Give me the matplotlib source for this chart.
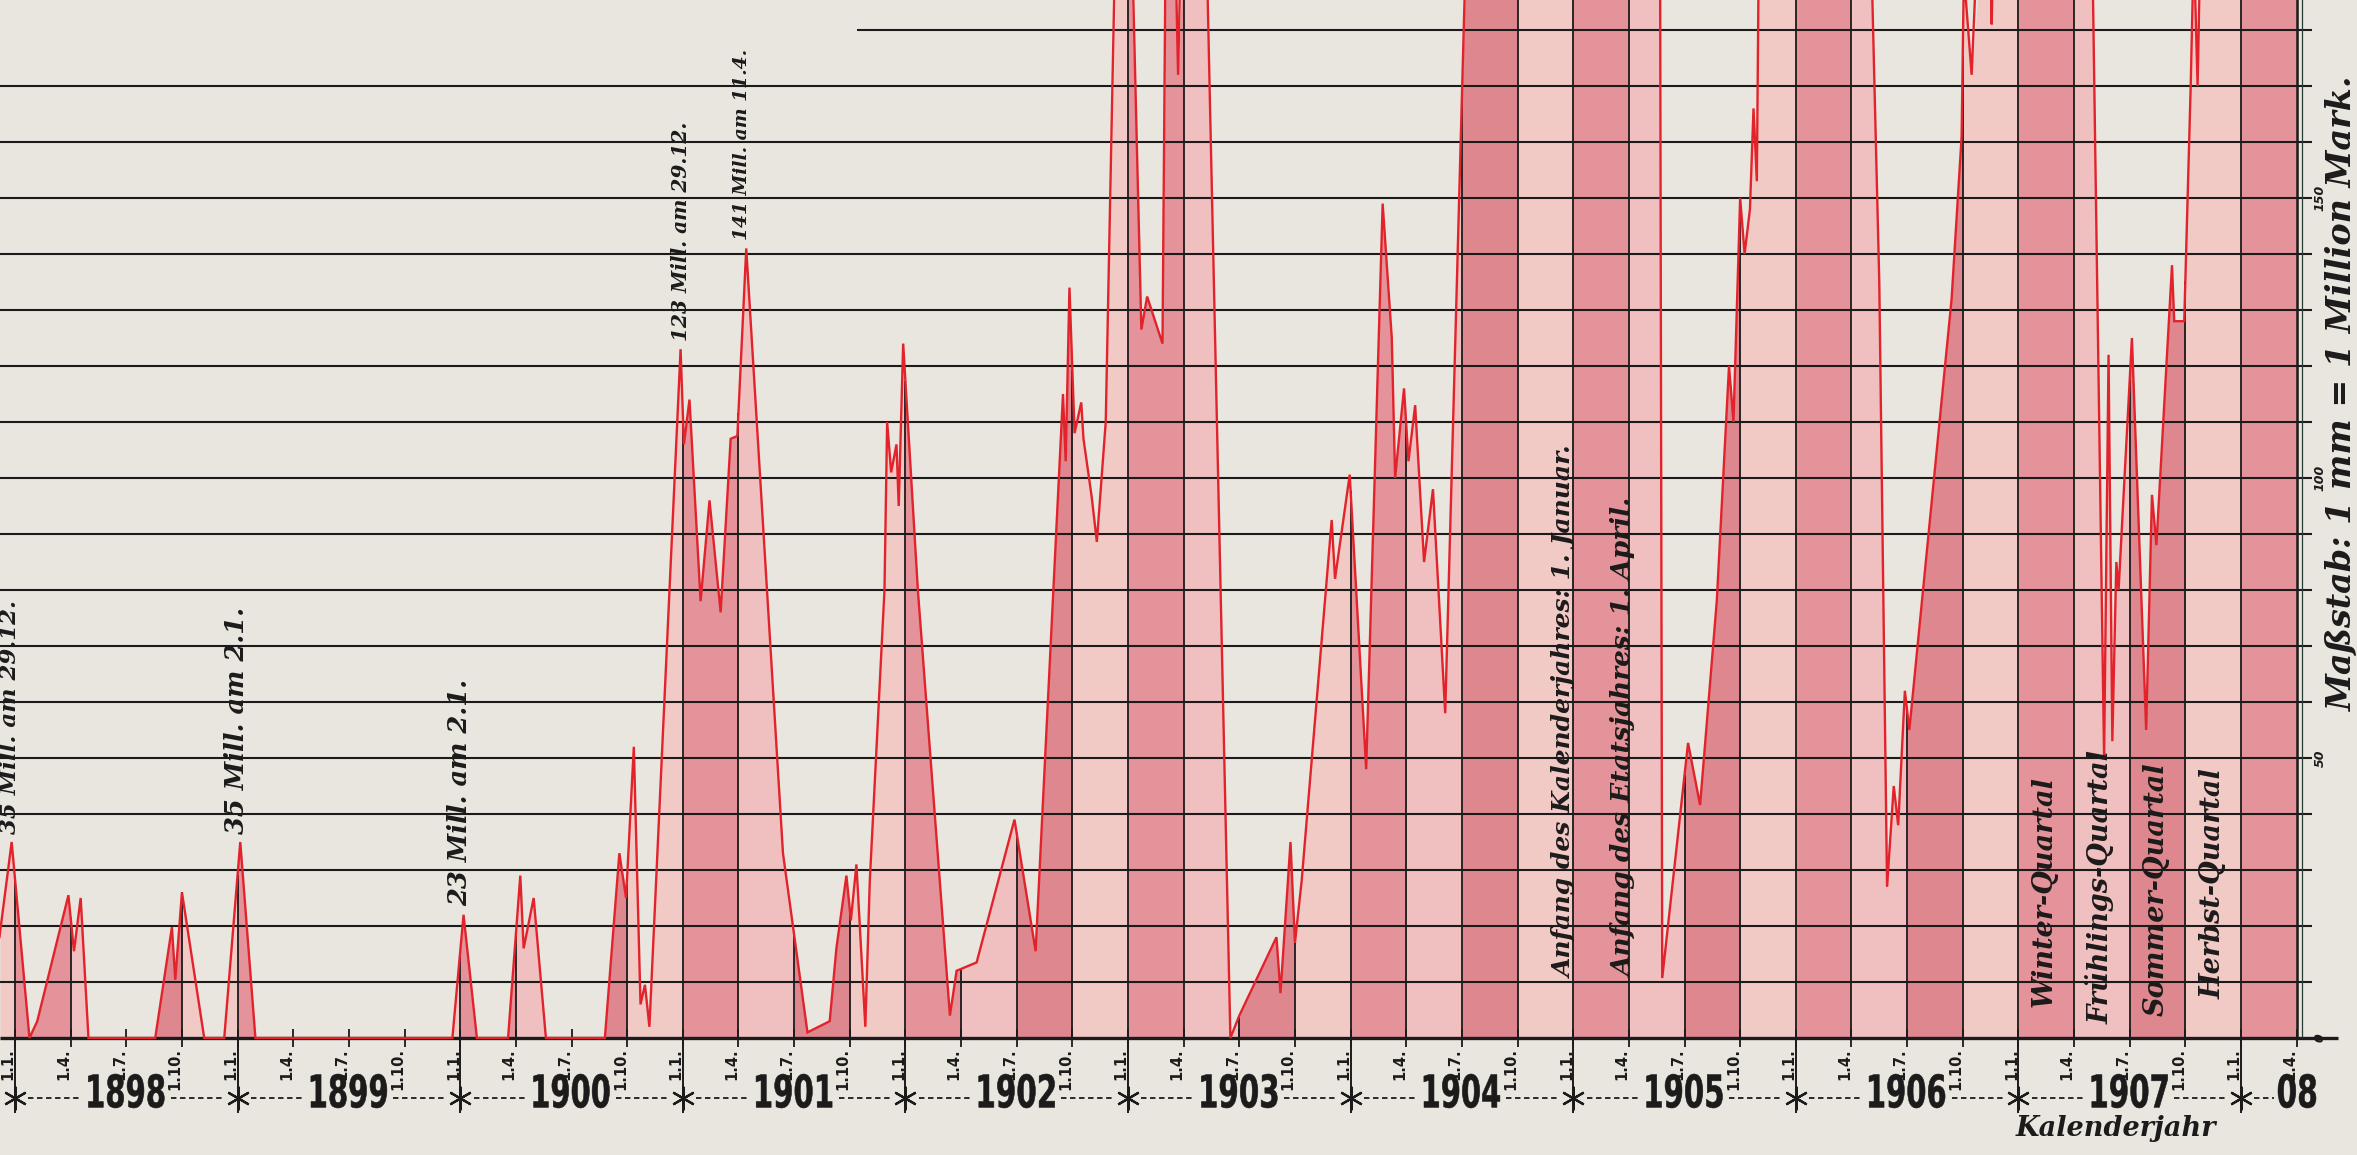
import matplotlib
matplotlib.use('Agg')
import matplotlib.pyplot as plt
import numpy as np
from matplotlib.textpath import TextPath
from matplotlib.patches import PathPatch
from matplotlib.font_manager import FontProperties
from matplotlib.transforms import Affine2D

# ---------------- data (fractional calendar year, Mill. Mark) ----------------
dates = [1897.93, 1897.985, 1898.065, 1898.10, 1898.24, 1898.265, 1898.295, 1898.33,
         1898.63, 1898.705, 1898.72, 1898.75, 1898.85, 1898.94, 1899.012, 1899.08,
         1899.965, 1900.015, 1900.075, 1900.215, 1900.27, 1900.285, 1900.33, 1900.385,
         1900.65, 1900.715, 1900.745, 1900.78, 1900.81, 1900.83, 1900.85, 1900.99,
         1901.005, 1901.03, 1901.08, 1901.12, 1901.17, 1901.215, 1901.245, 1901.285,
         1901.45, 1901.56, 1901.66, 1901.69, 1901.735, 1901.755, 1901.78, 1901.82,
         1901.84, 1901.906, 1901.918, 1901.936, 1901.96, 1901.97, 1901.99, 1902.056,
         1902.20, 1902.23, 1902.32, 1902.49, 1902.585, 1902.665, 1902.708, 1902.72,
         1902.737, 1902.76, 1902.79, 1902.80, 1902.837, 1902.86, 1902.90, 1902.945,
         1903.015, 1903.06, 1903.086, 1903.155, 1903.17, 1903.21, 1903.225, 1903.24,
         1903.35, 1903.46, 1903.50, 1903.667, 1903.685, 1903.73, 1903.75, 1903.78,
         1903.915, 1903.93, 1903.996, 1904.07, 1904.144, 1904.185, 1904.20, 1904.24,
         1904.26, 1904.29, 1904.33, 1904.37, 1904.425, 1904.515, 1905.39, 1905.40,
         1905.516, 1905.57, 1905.645, 1905.70, 1905.72, 1905.75, 1905.77, 1905.794,
         1905.81, 1905.825, 1905.835, 1906.335, 1906.375, 1906.41, 1906.44, 1906.46,
         1906.49, 1906.51, 1906.70, 1906.745, 1906.755, 1906.79, 1906.82, 1906.87,
         1906.88, 1906.89, 1907.33, 1907.385, 1907.405, 1907.422, 1907.44, 1907.45,
         1907.51, 1907.574, 1907.60, 1907.62, 1907.69, 1907.70, 1907.745, 1907.774,
         1907.788, 1907.805, 1907.82, 1908.30]
values = [18, 35, 0, 3, 25.5, 15.5, 25, 0,
          0, 19.8, 10.4, 26, 0, 0, 35, 0,
          0, 22, 0, 0, 29, 16, 25, 0,
          0, 33, 25, 52, 6, 9.5, 2, 123,
          106, 114, 78, 96, 76, 107, 107.5, 141,
          33, 1, 3, 16, 29, 21, 31, 2,
          28, 80, 110, 101, 106, 95, 124, 80,
          4, 12, 13.5, 39, 15.5, 80, 115, 103,
          134, 108, 113.5, 107, 96.6, 88.6, 110, 200,
          200, 126.5, 132.4, 124, 200, 200, 172, 200,
          200, 0, 4, 18, 8, 35, 17, 28,
          92.5, 82, 100.6, 48, 149, 125, 100, 116,
          103, 113, 85, 98, 58, 190, 200, 10.7,
          52.7, 41.6, 78, 120, 110, 150, 140, 148,
          166, 153, 200, 200, 135, 27, 45, 38,
          62, 55, 132, 161, 190, 172, 200, 200,
          181, 200, 200, 50, 122, 53, 85, 80,
          125, 55, 97, 88, 138, 128, 128, 170,
          195, 170, 200, 200]

years = [1898, 1899, 1900, 1901, 1902, 1903, 1904, 1905, 1906, 1907]
year_labels = ['1898', '1899', '1900', '1901', '1902', '1903', '1904', '1905', '1906', '1907']
quarter_labels = ['1.1.', '1.4.', '1.7.', '1.10.']
quarter_names = ['Winter-Quartal', 'Frühlings-Quartal', 'Sommer-Quartal', 'Herbst-Quartal']
scale_ticks = [0, 50, 100, 150]
peak_notes = [(1897.978, 36.5, '35 Mill. am 29.12.', 16.5),
              (1898.997, 36.5, '35 Mill. am 2.1.', 18.5),
              (1899.999, 23.5, '23 Mill. am 2.1.', 18.5),
              (1900.99, 124.5, '123 Mill. am 29.12.', 14.5),
              (1901.266, 142.5, '141 Mill. am 11.4.', 13.5)]

# ---------------- geometry ----------------
W, H = 2357, 1155
X0PX, YRPX, BASEPX, MPX = 15.0, 222.6, 1038.0, 5.6
x_left = 1898 - X0PX / YRPX
x_right = 1898 + (W - X0PX) / YRPX
y_bot = -(H - BASEPX) / MPX
y_top = BASEPX / MPX
END = 1908.25

def px2yr(px):
    return 1898 + (px - X0PX) / YRPX

def px2val(py):
    return (BASEPX - py) / MPX

PAPER = '#e8e6de'
RED = '#e2232c'
INK = '#1c1a1a'
QCOL = ['#e4939a', '#efc0bf', '#df878f', '#f1cac6']

fig = plt.figure(figsize=(W / 100, H / 100), dpi=100)
fig.patch.set_facecolor(PAPER)
ax = fig.add_axes([0, 0, 1, 1])
ax.set_facecolor(PAPER)
ax.set_xlim(x_left, x_right)
ax.set_ylim(y_bot, y_top)
ax.axis('off')

t = np.array(dates)
v = np.array(values)

# quarter coloured fills under the curve
qs = 1897.75
while qs < END - 1e-9:
    qe = qs + 0.25
    m = (t > qs) & (t < qe)
    xs = np.concatenate([[max(qs, x_left)], t[m], [qe]])
    ys = np.minimum(np.interp(xs, t, v), y_top + 2)
    qi = int(round((qs - np.floor(qs)) * 4)) % 4
    ax.fill_between(xs, 0, ys, color=QCOL[qi], lw=0, zorder=1)
    qs = qe

# horizontal grid lines
gx_end = px2yr(2312)
for k in range(1, 19):
    xs0 = px2yr(857) if k == 18 else x_left
    ax.hlines(10 * k, xs0, gx_end, color=INK, lw=1.5, zorder=3)
ax.hlines(0, x_left, px2yr(2338), color=INK, lw=2.4, zorder=4)

# vertical quarter lines (inside the filled area) and ticks
qb = np.arange(1898.0, END + 1e-9, 0.25)
for b in qb:
    top = min(float(np.interp(b, t, v)), y_top + 2)
    if top > 0 and b < END - 1e-9:
        ax.vlines(b, 0, top, color=INK, lw=1.3, zorder=3)
    ax.vlines(b, -1.6, 1.6, color=INK, lw=1.3, zorder=4)
    qi = int(round((b - np.floor(b)) * 4)) % 4
    ax.text(b + 0.003, -1.8, quarter_labels[qi], rotation=90, ha='right', va='top',
            fontsize=10.5, fontweight='bold', color=INK, zorder=5)

# right border (double line)
ax.vlines(END, 0, y_top + 2, color=INK, lw=1.8, zorder=4)
ax.vlines(px2yr(2302), 0, y_top + 2, color='#2a3a30', lw=0.9, zorder=4)
for s in scale_ticks:
    ax.text(px2yr(2320), s, str(s), rotation=90, ha='center', va='center',
            fontsize=9, style='italic', fontweight='bold', color=INK, zorder=5)

# red curve
ax.plot(t, v, color=RED, lw=1.7, zorder=6, solid_joinstyle='miter')

# year row
y_row = px2val(1098)
YFONT = FontProperties(family='DejaVu Sans', weight='bold')

def narrow_text(label, xc_yr, yc_val, w_px, h_px):
    tp = TextPath((0, 0), label, size=1, prop=YFONT)
    bb = tp.get_extents()
    sx = (w_px / bb.width) / YRPX
    sy = (h_px / bb.height) / MPX
    tr = (Affine2D().translate(-(bb.x0 + bb.width / 2), -(bb.y0 + bb.height / 2))
          .scale(sx, sy).translate(xc_yr, yc_val))
    path = tr.transform_path(tp)
    ax.add_patch(PathPatch(path, facecolor=INK, edgecolor=INK, lw=0.4, zorder=5))

for yy in years + [1908]:
    ax.vlines(yy, px2val(1113), 0, color=INK, lw=1.4, zorder=4)
    ax.plot([yy], [y_row], marker=(6, 2, 0), ms=17, mew=1.6, color=INK, zorder=5)
half = 0.2
for yy, lab in zip(years, year_labels):
    narrow_text(lab, yy + 0.5, px2val(1091), 76, 34)
    ax.hlines(y_row, yy + 0.06, yy + 0.5 - half, color=INK, lw=1.3,
              linestyles=(0, (3, 2)))
    ax.hlines(y_row, yy + 0.5 + half, yy + 1 - 0.06, color=INK, lw=1.3,
              linestyles=(0, (3, 2)))
narrow_text('08', px2yr(2297), px2val(1091), 38, 34)
ax.hlines(y_row, 1908.06, px2yr(2274), color=INK, lw=1.3, linestyles=(0, (3, 2)))

SCRIPT = dict(family='DejaVu Serif', style='italic', fontweight='bold', color=INK)

# peak annotations
for x, yv, txt, fs in peak_notes:
    ax.text(x, yv, txt, rotation=90, ha='center', va='bottom', fontsize=fs,
            zorder=7, **SCRIPT)

ax.text(1904.965, 10.7, 'Anfang des Kalenderjahres: 1. Januar.', rotation=90,
        ha='center', va='bottom', fontsize=18, zorder=7, **SCRIPT)
ax.text(1905.23, 10.7, 'Anfang des Etatsjahres: 1. April.', rotation=90,
        ha='center', va='bottom', fontsize=19, zorder=7, **SCRIPT)

qx = [1907.115, 1907.366, 1907.62, 1907.876]
qy = [5.5, 2.5, 4.0, 7.0]
for x, yv, txt in zip(qx, qy, quarter_names):
    ax.text(x, yv, txt, rotation=90, ha='center', va='bottom', fontsize=19.5,
            zorder=7, **SCRIPT)

ax.text(px2yr(2116), px2val(1128), 'Kalenderjahr', ha='center', va='center',
        fontsize=19.5, **SCRIPT)
ax.text(px2yr(2342), px2val(393), 'Maßstab: 1 mm = 1 Million Mark.', rotation=90,
        ha='center', va='center', fontsize=24, **SCRIPT)

fig.savefig('out.png', dpi=100, facecolor=PAPER)
